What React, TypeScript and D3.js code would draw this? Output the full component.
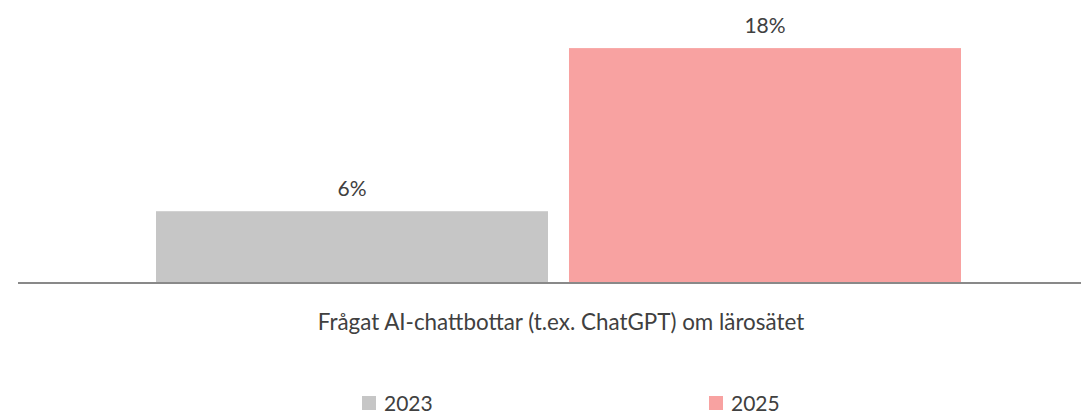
import React from "react";
import * as d3 from "d3";

const categories = ["Frågat AI-chattbottar (t.ex. ChatGPT) om lärosätet"];
const seriesNames = ["2023", "2025"];
const seriesValues = [0.055, 0.18];
const seriesColors = ["#C6C6C6", "#F8A2A1"];

const W = 1081;
const H = 412;
const FONT = "Lato, 'Open Sans', sans-serif";

export default function App() {
  const baseline = 283;
  const x0 = d3.scaleBand<string>().domain(categories).range([156, 961]).padding(0);
  const x1 = d3.scaleBand<string>().domain(seriesNames).range([0, x0.bandwidth()]).paddingInner(0.0508).paddingOuter(0);
  const y = d3.scaleLinear().domain([0, 0.2]).range([baseline, baseline - 261]);
  const fmt = (v: number) => `${Math.round(v * 100)}%`;
  const cat = categories[0];
  const legendX = [362, 709];

  return (
    <svg width={W} height={H} style={{ position: "absolute", left: 0, top: 0, display: "block" }}>
      <rect width={W} height={H} fill="#ffffff" />
      {seriesNames.map((s, i) => {
        const bx = (x0(cat) ?? 0) + (x1(s) ?? 0);
        const v = seriesValues[i];
        return (
          <g key={s}>
            <rect x={bx} y={y(v)} width={x1.bandwidth()} height={baseline - y(v)} fill={seriesColors[i]} />
            <text x={bx + x1.bandwidth() / 2} y={y(v) - 15.5} textAnchor="middle" fontFamily={FONT} fontSize={21} fill="#404040">
              {fmt(v)}
            </text>
          </g>
        );
      })}
      <line x1={18} x2={1081} y1={baseline} y2={baseline} stroke="#898989" strokeWidth={2} />
      <text x={561} y={330} textAnchor="middle" fontFamily={FONT} fontSize={22.4} fill="#404040">
        {cat}
      </text>
      {seriesNames.map((s, i) => (
        <g key={"lg" + s}>
          <rect x={legendX[i]} y={396} width={14} height={14} fill={seriesColors[i]} />
          <text x={legendX[i] + 22} y={411} fontFamily={FONT} fontSize={21} fill="#404040">
            {s}
          </text>
        </g>
      ))}
    </svg>
  );
}
